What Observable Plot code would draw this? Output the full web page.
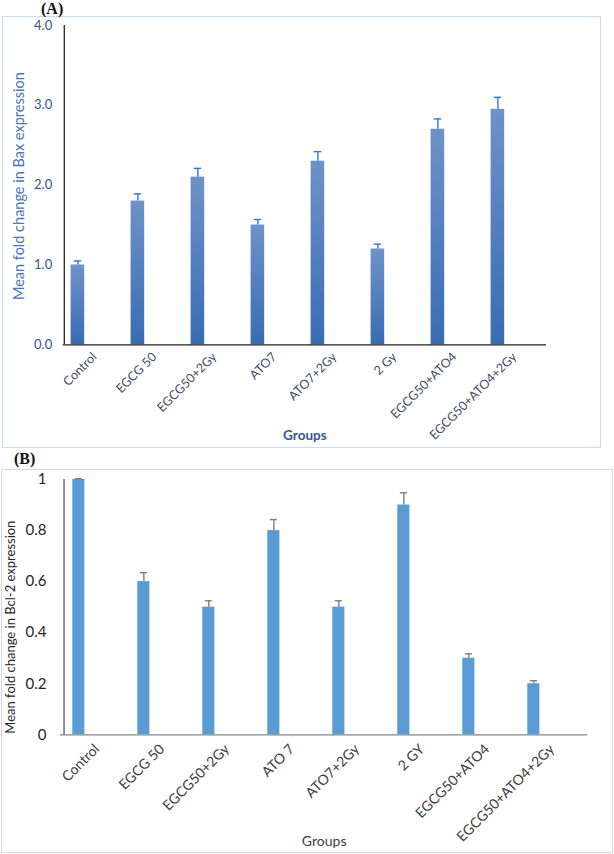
<!DOCTYPE html>
<html>
<head>
<meta charset="utf-8">
<script src="https://cdn.jsdelivr.net/npm/d3@7"></script>
<script src="https://cdn.jsdelivr.net/npm/@observablehq/plot@0.6"></script>
<style>
  html, body { margin: 0; padding: 0; background: #fff; }
  #page { position: relative; width: 614px; height: 854px; overflow: hidden; background: #fff; }
  .frame { position: absolute; box-sizing: border-box; }
  #frameA { left: 2px; top: 16px; width: 599px; height: 432px; border: 1.5px solid #c8dbf2; }
  #frameB { left: 1px; top: 469px; width: 612px; height: 384px; border: 1.5px solid #dadada; }
  .tag { position: absolute; font-family: "Liberation Serif", serif; font-weight: bold; font-size: 16px; line-height: 16px; color: #111; }
  #tagA { left: 41px; top: 1px; }
  #tagB { left: 14px; top: 451px; }
  #plotA { position: absolute; left: 0; top: 0; }
  #plotB { position: absolute; left: 0; top: 469px; }
</style>
</head>
<body>
<div id="page">
  <div class="frame" id="frameA"></div>
  <div class="frame" id="frameB"></div>
  <div class="tag" id="tagA">(A)</div>
  <div class="tag" id="tagB">(B)</div>
  <div id="plotA"></div>
  <div id="plotB"></div>
</div>
<script>
// ---- Data ----
const categoriesA = ["Control", "EGCG 50", "EGCG50+2Gy", "ATO7", "ATO7+2Gy", "2 Gy", "EGCG50+ATO4", "EGCG50+ATO4+2Gy"];
const meansA = [1.0, 1.8, 2.1, 1.5, 2.3, 1.2, 2.7, 2.95];
const errorsA = [0.05, 0.09, 0.11, 0.07, 0.12, 0.06, 0.13, 0.15];
const ticksA = [0, 1, 2, 3, 4];
const titleA = "Mean fold change in Bax expression";

const categoriesB = ["Control", "EGCG 50", "EGCG50+2Gy", "ATO 7", "ATO7+2Gy", "2 GY", "EGCG50+ATO4", "EGCG50+ATO4+2Gy"];
const meansB = [1.0, 0.6, 0.5, 0.8, 0.5, 0.9, 0.3, 0.2];
const errorsB = [0.003, 0.035, 0.025, 0.043, 0.025, 0.048, 0.017, 0.012];
const ticksB = [0, 0.2, 0.4, 0.6, 0.8, 1];
const titleB = "Mean fold change in Bcl-2 expression";

const xTitle = "Groups";

const dataA = categoriesA.map((c, i) => ({cat: c, mean: meansA[i], upper: meansA[i] + errorsA[i]}));
const dataB = categoriesB.map((c, i) => ({cat: c, mean: meansB[i], upper: meansB[i] + errorsB[i]}));

// ---- Panel A ----
const wA = 614, mlA = 62.7, mrA = 68;
const bwA = (wA - mlA - mrA) / categoriesA.length;
const barLA = 6.6, barWA = 14, capA = 8;
const cA = barLA + barWA / 2;

const svgA = Plot.plot({
  width: wA, height: 450,
  marginLeft: mlA, marginRight: mrA, marginTop: 25, marginBottom: 105.7,
  style: {background: "transparent", fontFamily: "Lato, sans-serif", overflow: "visible"},
  x: {domain: categoriesA, padding: 0},
  y: {domain: [0, 4]},
  marks: [
    Plot.barY(dataA, {x: "cat", y: "mean", fill: "url(#gradA)", insetLeft: barLA, insetRight: bwA - barLA - barWA}),
    Plot.ruleX(dataA, {x: "cat", y1: "mean", y2: "upper", stroke: "#2f78d8", strokeWidth: 1.4, dx: cA - bwA / 2}),
    Plot.tickY(dataA, {x: "cat", y: "upper", stroke: "#2f78d8", strokeWidth: 1.4, insetLeft: cA - capA / 2, insetRight: bwA - cA - capA / 2}),
    Plot.ruleY([0], {stroke: "#222", strokeWidth: 1.3}),
    Plot.ruleX([categoriesA[0]], {stroke: "#222", strokeWidth: 1.3, dx: -bwA / 2}),
    Plot.axisY({ticks: ticksA, tickFormat: d => d.toFixed(1), tickSize: 0, tickPadding: 11, fontSize: 13, fill: "#2f5597", label: null}),
    Plot.axisX({tickRotate: -45, tickSize: 0, tickPadding: 10, fontSize: 12.5, fill: "#3f4f6b", label: null}),
    Plot.text([titleA], {text: d => d, frameAnchor: "left", textAnchor: "middle", rotate: -90, dx: -44, dy: 1, fontSize: 14.5, fill: "#4a76b8"}),
    Plot.text([xTitle], {text: d => d, frameAnchor: "bottom", dy: 95, fontSize: 13.5, fontWeight: "bold", fill: "#2f5597"})
  ]
});
const defsA = d3.select(svgA).insert("defs", ":first-child");
const gA = defsA.append("linearGradient").attr("id", "gradA").attr("x1", 0).attr("y1", 0).attr("x2", 0).attr("y2", 1);
gA.append("stop").attr("offset", "0%").attr("stop-color", "#6e92c9");
gA.append("stop").attr("offset", "100%").attr("stop-color", "#386cb4");
document.getElementById("plotA").appendChild(svgA);

// ---- Panel B ----
const wB = 614, mlB = 60, mrB = 26.7;
const bwB = (wB - mlB - mrB) / categoriesB.length;
const barLB = 8.3, barWB = 13, capB = 8;
const cB = barLB + barWB / 2;

const svgB = Plot.plot({
  width: wB, height: 385,
  marginLeft: mlB, marginRight: mrB, marginTop: 10, marginBottom: 119.7,
  style: {background: "transparent", fontFamily: "Lato, sans-serif", overflow: "visible"},
  x: {domain: categoriesB, padding: 0},
  y: {domain: [0, 1]},
  marks: [
    Plot.barY(dataB, {x: "cat", y: "mean", fill: "#5b9bd5", insetLeft: barLB, insetRight: bwB - barLB - barWB}),
    Plot.ruleX(dataB, {x: "cat", y1: "mean", y2: "upper", stroke: "#7f7f7f", strokeWidth: 1.4, dx: cB - bwB / 2}),
    Plot.tickY(dataB, {x: "cat", y: "upper", stroke: "#7f7f7f", strokeWidth: 1.4, insetLeft: cB - capB / 2, insetRight: bwB - cB - capB / 2}),
    Plot.ruleY([0], {stroke: "#868686", strokeWidth: 1.3}),
    Plot.ruleX([categoriesB[0]], {stroke: "#595959", strokeWidth: 1.3, dx: -bwB / 2}),
    Plot.axisY({ticks: ticksB, tickFormat: d => String(+d.toFixed(1)), tickSize: 0, tickPadding: 14, fontSize: 15, fill: "#262626", label: null}),
    Plot.axisX({tickRotate: -45, tickSize: 0, tickPadding: 12, fontSize: 14, fill: "#404040", label: null}),
    Plot.text([titleB], {text: d => d, frameAnchor: "left", textAnchor: "middle", rotate: -90, dx: -50, dy: 20, fontSize: 13, fill: "#262626"}),
    Plot.text([xTitle], {text: d => d, frameAnchor: "bottom", dy: 111, fontSize: 14, fill: "#404040"})
  ]
});
document.getElementById("plotB").appendChild(svgB);
</script>
</body>
</html>
